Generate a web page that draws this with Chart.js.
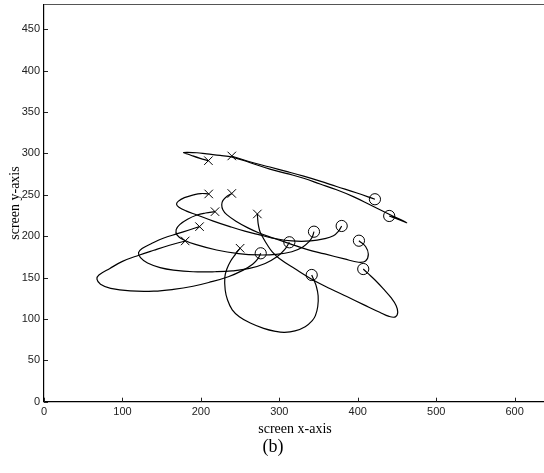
<!DOCTYPE html>
<html>
<head>
<meta charset="utf-8">
<script src="https://cdn.jsdelivr.net/npm/chart.js@4.4.1/dist/chart.umd.min.js"></script>
<style>
  html, body { margin: 0; padding: 0; background: #fff; overflow: hidden; }
  #wrap { width: 550px; height: 473px; }
</style>
</head>
<body>
<div id="wrap"><canvas id="c" width="550" height="473"></canvas></div>
<script>
// ---- tick labels ----
const xTicks = [0, 100, 200, 300, 400, 500, 600];
const yTicks = [0, 50, 100, 150, 200, 250, 300, 350, 400, 450];

// ---- trajectories (screen coordinates); each starts at an "x" and ends at an "o" ----
const traj1X = [239.4, 260, 288, 310, 331, 352, 373, 398, 421.9];
const traj1Y = [296.9, 290.5, 283.5, 278, 272.5, 266.5, 260, 252.5, 244.6];

const traj2X = [209.6, 199, 188, 180, 178, 183, 195, 207.6, 224.5, 240, 262, 288, 310, 331, 352, 373, 395, 415.5, 440, 462.2, 451, 440.1];
const traj2Y = [291.2, 294, 297.5, 300.3, 301, 301.3, 300.8, 299.3, 297.6, 295.5, 289, 281, 275.5, 270, 263, 256, 247.5, 238, 226.5, 216.3, 220.5, 224.4];

const traj3X = [210, 200, 190.5, 179, 171, 169, 172, 181, 195, 215, 237, 256, 275, 295, 316, 340, 358, 369, 375, 379.5];
const traj3Y = [251, 251.5, 249.8, 246.5, 242, 238.5, 235, 230.5, 225.6, 218.5, 211.5, 206, 201.5, 197, 194.2, 194.2, 197, 200.5, 205.5, 212.3];

const traj4X = [239.4, 233, 228, 226.6, 228, 233, 245.8, 260, 275, 293, 313, 335, 358, 383, 401, 410, 413.5, 410, 401.5];
const traj4Y = [251.6, 248, 243, 238, 232, 226, 217.5, 210, 203.5, 197.5, 191, 184, 178.5, 172.5, 168.5, 170, 178, 187.5, 194.5];

const traj5X = [272, 272.5, 273.3, 275.5, 279.6, 285, 291, 300, 320, 343, 365, 386, 408, 428, 440, 448, 451, 449, 443, 433, 422, 413, 407];
const traj5Y = [226.8, 220, 213.5, 205, 197.4, 189, 181, 173, 160.5, 147, 136.5, 127, 117, 108, 103, 102.5, 108, 116, 125, 136, 147, 155, 160.3];

const traj6X = [218, 206, 195, 183, 173, 168.5, 169.5, 177, 193, 220, 248, 273, 296, 316, 330, 338, 342, 344.2];
const traj6Y = [229.6, 228, 225.6, 220.5, 214, 208, 201.5, 196, 190, 183.3, 179, 177.3, 178, 181.2, 187, 193.5, 199, 205.4];

const traj7X = [198.3, 185, 170, 152, 136, 125, 120.5, 123, 132, 148, 165, 190, 218, 240, 262, 282, 297, 307, 312.8];
const traj7Y = [211.5, 207.5, 203, 197.5, 190.5, 185, 180, 174, 167.5, 162, 159, 157, 157, 158, 161, 167, 175, 184, 192.6];

const traj8X = [180, 160, 140, 121, 100, 84, 70, 67.5, 72, 85, 110, 140, 165, 190, 210, 235, 254, 266, 272.5, 276.3];
const traj8Y = [194.2, 189, 183, 177, 169.5, 161, 153, 148, 142, 137, 133.8, 133.5, 135.7, 139.5, 144, 151, 159, 166, 172.5, 179.3];

const traj9X = [250, 244, 238, 233, 230.5, 231, 234, 240, 249, 263, 280, 295, 306.6, 320, 333, 342, 346, 349, 349.5, 347, 344, 341.3];
const traj9Y = [185.4, 178, 170, 160, 150, 135, 122.8, 111, 102.7, 95, 88.6, 85, 83.8, 85.5, 90.6, 98, 104, 115, 128, 140, 147, 153.1];

const trajectories = [
  [traj1X, traj1Y], [traj2X, traj2Y], [traj3X, traj3Y], [traj4X, traj4Y], [traj5X, traj5Y],
  [traj6X, traj6Y], [traj7X, traj7Y], [traj8X, traj8Y], [traj9X, traj9Y]
];

const toPts = (xs, ys) => xs.map((x, i) => ({ x: x, y: ys[i] }));

const datasets = trajectories.map(([xs, ys]) => ({
  data: toPts(xs, ys),
  showLine: true,
  borderColor: '#000',
  borderWidth: 1.2,
  pointRadius: 0,
  tension: 0.4,
  fill: false
}));

// start markers (x) and end markers (o)
datasets.push({
  data: trajectories.map(([xs, ys]) => ({ x: xs[0], y: ys[0] })),
  showLine: false,
  pointStyle: 'crossRot',
  pointRadius: 6,
  borderColor: '#000',
  borderWidth: 1,
  backgroundColor: '#000'
});
datasets.push({
  data: trajectories.map(([xs, ys]) => ({ x: xs[xs.length - 1], y: ys[ys.length - 1] })),
  showLine: false,
  pointStyle: 'circle',
  pointRadius: 5.6,
  borderColor: '#000',
  borderWidth: 1,
  backgroundColor: 'rgba(0,0,0,0)'
});

// inward tick marks and frame line
const framePlugin = {
  id: 'frame',
  afterDraw(chart) {
    const ctx = chart.ctx;
    const a = chart.chartArea;
    const xs = chart.scales.x, ys = chart.scales.y;
    ctx.save();
    ctx.strokeStyle = '#222';
    ctx.lineWidth = 1;
    ctx.beginPath();
    xTicks.forEach(v => {
      const p = Math.round(xs.getPixelForValue(v)) + 0.5;
      ctx.moveTo(p, a.bottom);
      ctx.lineTo(p, a.bottom - 4);
    });
    yTicks.forEach(v => {
      const p = Math.round(ys.getPixelForValue(v)) + 0.5;
      ctx.moveTo(a.left, p);
      ctx.lineTo(a.left + 4, p);
    });
    ctx.stroke();
    ctx.strokeStyle = '#555';
    ctx.beginPath();
    ctx.moveTo(a.left, Math.round(a.top) + 0.5);
    ctx.lineTo(a.right, Math.round(a.top) + 0.5);
    ctx.moveTo(Math.round(a.right) - 0.5, a.top);
    ctx.lineTo(Math.round(a.right) - 0.5, a.bottom);
    ctx.stroke();
    ctx.restore();
  }
};

const tickFont = { family: 'Liberation Sans, Arial, sans-serif', size: 11 };
const titleFont = { family: 'Liberation Serif, Times New Roman, serif', size: 14, lineHeight: 1 };

const noPad = s => { s.paddingTop = 0; s.paddingBottom = 0; s.paddingLeft = 0; s.paddingRight = 0; };

new Chart(document.getElementById('c'), {
  type: 'scatter',
  data: { datasets: datasets },
  options: {
    responsive: false,
    animation: false,
    layout: { autoPadding: false, padding: { top: 4.4, right: 4, left: 0, bottom: 0 } },
    plugins: {
      legend: { display: false },
      tooltip: { enabled: false },
      title: {
        display: true,
        position: 'bottom',
        text: '(b)',
        color: '#000',
        font: { family: 'Liberation Serif, Times New Roman, serif', size: 18, weight: 'normal', lineHeight: 1.2 },
        padding: { top: 0, bottom: 14.7 }
      }
    },
    scales: {
      x: {
        type: 'linear',
        min: 0,
        max: 640,
        afterBuildTicks: s => { s.ticks = xTicks.map(v => ({ value: v })); },
        afterFit: s => { s.height = 35; noPad(s); },
        grid: { display: false, drawTicks: false },
        border: { display: true, color: '#000', width: 1.2 },
        ticks: { font: tickFont, color: '#222', padding: 4, maxRotation: 0 },
        title: { display: true, text: 'screen x-axis', color: '#000', font: titleFont, padding: { top: 0, bottom: 0 } }
      },
      y: {
        type: 'linear',
        min: 0,
        max: 480,
        afterBuildTicks: s => { s.ticks = yTicks.map(v => ({ value: v })); },
        afterFit: s => { s.width = 44; noPad(s); },
        grid: { display: false, drawTicks: false },
        border: { display: true, color: '#000', width: 1.2 },
        ticks: { font: tickFont, color: '#222', padding: 4 },
        title: { display: true, text: 'screen y-axis', color: '#000', font: titleFont, padding: { top: 8, bottom: 0 } }
      }
    }
  },
  plugins: [framePlugin]
});
</script>
</body>
</html>
